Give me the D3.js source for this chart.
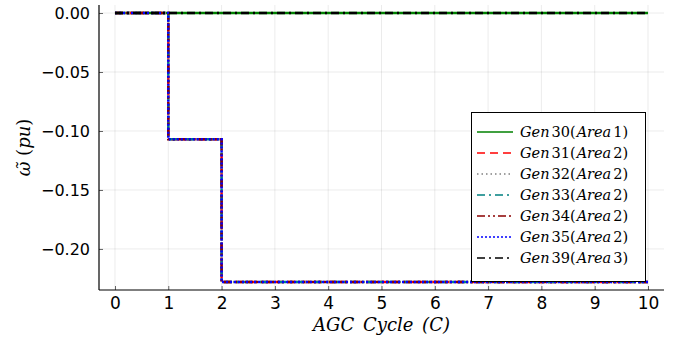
<!DOCTYPE html>
<html>
<head>
<meta charset="utf-8">
<script src="https://cdn.jsdelivr.net/npm/d3@7"></script>
<style>
  body { margin: 0; background: #fff; }
  svg { display: block; }
  .tick text { font-family: "DejaVu Sans", sans-serif; font-size: 16px; fill: #000; }
</style>
</head>
<body>
<div class="app"></div>
<script>
// AGC cycles and frequency deviation per generator
var cycles = [0, 1, 2, 3, 4, 5, 6, 7, 8, 9, 10];
var gen30 = [0, 0, 0, 0, 0, 0, 0, 0, 0, 0, 0];
var gen31 = [0, -0.107, -0.228, -0.228, -0.228, -0.228, -0.228, -0.228, -0.228, -0.228, -0.228];
var gen32 = [0, -0.107, -0.228, -0.228, -0.228, -0.228, -0.228, -0.228, -0.228, -0.228, -0.228];
var gen33 = [0, -0.107, -0.228, -0.228, -0.228, -0.228, -0.228, -0.228, -0.228, -0.228, -0.228];
var gen34 = [0, -0.107, -0.228, -0.228, -0.228, -0.228, -0.228, -0.228, -0.228, -0.228, -0.228];
var gen35 = [0, -0.107, -0.228, -0.228, -0.228, -0.228, -0.228, -0.228, -0.228, -0.228, -0.228];
var gen39 = [0, 0, 0, 0, 0, 0, 0, 0, 0, 0, 0];
var genNames = ["30", "31", "32", "33", "34", "35", "39"];
var genAreas = ["1", "2", "2", "2", "2", "2", "3"];
var xTicks = [0, 1, 2, 3, 4, 5, 6, 7, 8, 9, 10];
var yTicks = [0, -0.05, -0.10, -0.15, -0.20];

var series = [gen30, gen31, gen32, gen33, gen34, gen35, gen39];
var colors = ["#008000", "#ff0000", "#808080", "#008080", "#8b0000", "#0000ff", "#000000"];
var dashes = ["none", "8,5", "1.5,3", "8,4,2,4", "8,3,2,3,2,3", "2,2", "8,4,2,4"];

var W = 681, H = 343;
var pl = 99, pr = 664, pt = 5, pb = 290;

var svg = d3.select(".app").append("svg").attr("width", W).attr("height", H);

var x = d3.scaleLinear().domain([-0.3, 10.3]).range([pl, pr]);
var y = d3.scaleLinear().domain([-0.2348, 0.0068]).range([pb, pt]);

// grid
svg.append("g").selectAll("line").data(xTicks).enter().append("line")
  .attr("x1", function(d){ return x(d); }).attr("x2", function(d){ return x(d); })
  .attr("y1", pt).attr("y2", pb)
  .attr("stroke", "#000").attr("stroke-opacity", 0.1).attr("stroke-width", 0.8);
svg.append("g").selectAll("line").data(yTicks).enter().append("line")
  .attr("x1", pl).attr("x2", pr)
  .attr("y1", function(d){ return y(d); }).attr("y2", function(d){ return y(d); })
  .attr("stroke", "#000").attr("stroke-opacity", 0.1).attr("stroke-width", 0.8);

// axes
var xAxis = d3.axisBottom(x).tickValues(xTicks).tickFormat(d3.format("d")).tickSize(-4).tickPadding(7);
var gx = svg.append("g").attr("transform", "translate(0," + pb + ")").call(xAxis);
gx.select(".domain").attr("d", "M" + pl + ",0H" + pr).attr("stroke-width", 1.2);
gx.selectAll(".tick line").attr("stroke", "#000").attr("stroke-opacity", 0.6);
gx.selectAll(".tick text").style("font-size", "17px");

var yAxis = d3.axisLeft(y).tickValues(yTicks)
  .tickFormat(function(d){ return d3.format(".2f")(d).replace("-", "\u2212"); })
  .tickSize(-4).tickPadding(9);
var gy = svg.append("g").attr("transform", "translate(" + pl + ",0)").call(yAxis);
gy.select(".domain").attr("d", "M0," + pt + "V" + pb).attr("stroke-width", 1.2);
gy.selectAll(".tick line").attr("stroke", "#000").attr("stroke-opacity", 0.6);

// lines
var line = d3.line().curve(d3.curveStepAfter)
  .x(function(d, i){ return x(cycles[i]); })
  .y(function(d){ return y(d); });

series.forEach(function(s, i){
  svg.append("path").datum(s).attr("d", line)
    .attr("fill", "none").attr("stroke", colors[i]).attr("stroke-width", 2.5)
    .attr("stroke-dasharray", dashes[i]);
});

// legend
var lg = svg.append("g");
lg.append("rect").attr("x", 471.5).attr("y", 112.5).attr("width", 174).attr("height", 169)
  .attr("fill", "#fff").attr("stroke", "#000").attr("stroke-width", 1);
genNames.forEach(function(name, i){
  var ly = 132 + i * 21;
  lg.append("line").attr("x1", 477).attr("x2", 513).attr("y1", ly).attr("y2", ly)
    .attr("stroke", colors[i]).attr("stroke-width", 1.5).attr("stroke-dasharray", dashes[i]);
  var t = lg.append("text").attr("x", 520).attr("y", ly + 5)
    .attr("font-family", "'DejaVu Serif', serif").attr("font-size", 14.5).attr("fill", "#000");
  t.append("tspan").attr("font-style", "italic").text("Gen");
  t.append("tspan").attr("dx", 2).text(name + "(");
  t.append("tspan").attr("dx", 1).attr("font-style", "italic").text("Area");
  t.append("tspan").attr("dx", 2).text(genAreas[i] + ")");
});

// axis labels
svg.append("text").attr("x", (pl + pr) / 2).attr("y", 331)
  .attr("text-anchor", "middle").attr("font-family", "'DejaVu Serif', serif")
  .attr("font-size", 18).attr("font-style", "italic").attr("word-spacing", 3)
  .text("AGC Cycle (C)");

var yl = svg.append("text").attr("transform", "translate(30," + ((pt + pb) / 2) + ") rotate(-90)")
  .attr("text-anchor", "middle").attr("font-family", "'DejaVu Serif', serif")
  .attr("font-size", 18);
yl.append("tspan").attr("font-style", "italic").text("\u03C9\u0303");
yl.append("tspan").text(" (");
yl.append("tspan").attr("font-style", "italic").text("pu");
yl.append("tspan").text(")");
</script>
</body>
</html>
